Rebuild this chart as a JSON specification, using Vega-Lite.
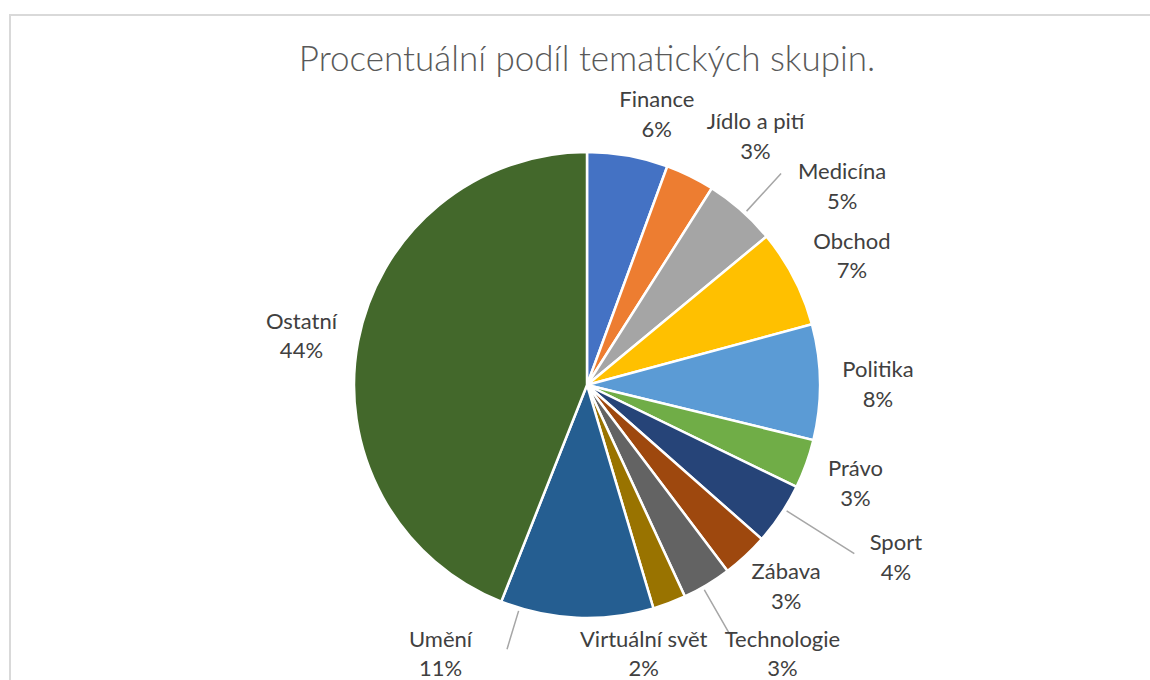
{
  "$schema": "https://vega.github.io/schema/vega-lite/v6.json",
  "autosize": "none",
  "width": 1154,
  "height": 740,
  "padding": {"left": 10, "top": 15, "right": 0, "bottom": 0},
  "background": "white",
  "config": {"view": {"stroke": null}},
  "title": {
    "text": "Procentuální podíl tematických skupin.",
    "frame": "group",
    "anchor": "middle",
    "orient": "top",
    "baseline": "alphabetic",
    "offset": -92,
    "font": "Lato",
    "fontSize": 35,
    "fontWeight": 300,
    "color": "#595959"
  },
  "data": {
    "values": [
      {"name": "Finance", "value": 0.056},
      {"name": "Jídlo a pití", "value": 0.034},
      {"name": "Medicína", "value": 0.050},
      {"name": "Obchod", "value": 0.068},
      {"name": "Politika", "value": 0.080},
      {"name": "Právo", "value": 0.034},
      {"name": "Sport", "value": 0.043},
      {"name": "Zábava", "value": 0.032},
      {"name": "Technologie", "value": 0.034},
      {"name": "Virtuální svět", "value": 0.023},
      {"name": "Umění", "value": 0.106},
      {"name": "Ostatní", "value": 0.440}
    ]
  },
  "transform": [
    {"window": [{"op": "row_number", "as": "i"}]},
    {"stack": "value", "groupby": [], "sort": [{"field": "i", "order": "ascending"}], "as": ["v0", "v1"]},
    {"calculate": "(datum.v0 + datum.v1) / 2", "as": "mid"},
    {"calculate": "[datum.name, format(datum.value, '.0%')]", "as": "txt"}
  ],
  "layer": [
    {
      "mark": {"type": "rect", "fill": null, "stroke": "#D9D9D9", "strokeWidth": 2},
      "encoding": {}
    },
    {
      "mark": {"type": "arc", "radius": 233, "stroke": "white", "strokeWidth": 2.5},
      "encoding": {
        "theta": {"field": "v0", "type": "quantitative", "stack": null, "scale": {"domain": [0, 1], "range": [0, 6.283185307179586]}},
        "theta2": {"field": "v1"},
        "color": {
          "field": "name",
          "type": "nominal",
          "legend": null,
          "scale": {
            "domain": ["Finance", "Jídlo a pití", "Medicína", "Obchod", "Politika", "Právo", "Sport", "Zábava", "Technologie", "Virtuální svět", "Umění", "Ostatní"],
            "range": ["#4472C4", "#ED7D31", "#A5A5A5", "#FFC000", "#5B9BD5", "#70AD47", "#264478", "#9E480E", "#636363", "#997300", "#255E91", "#43682B"]
          }
        }
      }
    },
    {
      "transform": [{"filter": "indexof(['Medicína','Technologie'], datum.name) >= 0"}],
      "mark": {"type": "arc", "radius": 287, "radius2": 236, "thetaOffset": 0.02, "theta2Offset": 0.02, "fill": null, "stroke": "#A6A6A6", "strokeWidth": 1.5},
      "encoding": {
        "theta": {"field": "mid", "type": "quantitative"},
        "theta2": {"field": "mid"}
      }
    },
    {
      "transform": [{"filter": "datum.name === 'Sport'"}],
      "mark": {"type": "arc", "radius": 316, "radius2": 236, "thetaOffset": -0.025, "theta2Offset": -0.025, "fill": null, "stroke": "#A6A6A6", "strokeWidth": 1.5},
      "encoding": {
        "theta": {"field": "mid", "type": "quantitative"},
        "theta2": {"field": "mid"}
      }
    },
    {
      "transform": [{"filter": "datum.name === 'Umění'"}],
      "mark": {"type": "arc", "radius": 276, "radius2": 236, "thetaOffset": 0.25, "theta2Offset": 0.25, "fill": null, "stroke": "#A6A6A6", "strokeWidth": 1.5},
      "encoding": {
        "theta": {"field": "mid", "type": "quantitative"},
        "theta2": {"field": "mid"}
      }
    },
    {
      "transform": [{"filter": "datum.name === 'Obchod'"}],
      "mark": {"type": "text", "radius": 294.5, "thetaOffset": 0.026, "dy": -14.75, "font": "Lato", "fontSize": 22, "lineHeight": 29.5, "color": "#404040", "align": "center", "baseline": "middle"},
      "encoding": {"theta": {"field": "mid", "type": "quantitative"}, "text": {"field": "txt"}}
    },
    {
      "transform": [{"filter": "datum.name === 'Politika'"}],
      "mark": {"type": "text", "radius": 291, "thetaOffset": 0.012, "dy": -14.75, "font": "Lato", "fontSize": 22, "lineHeight": 29.5, "color": "#404040", "align": "center", "baseline": "middle"},
      "encoding": {"theta": {"field": "mid", "type": "quantitative"}, "text": {"field": "txt"}}
    },
    {
      "transform": [{"filter": "datum.name === 'Právo'"}],
      "mark": {"type": "text", "radius": 286, "thetaOffset": 0.007, "dy": -14.75, "font": "Lato", "fontSize": 22, "lineHeight": 29.5, "color": "#404040", "align": "center", "baseline": "middle"},
      "encoding": {"theta": {"field": "mid", "type": "quantitative"}, "text": {"field": "txt"}}
    },
    {
      "transform": [{"filter": "datum.name === 'Zábava'"}],
      "mark": {"type": "text", "radius": 283.5, "thetaOffset": -0.031, "dy": -14.75, "font": "Lato", "fontSize": 22, "lineHeight": 29.5, "color": "#404040", "align": "center", "baseline": "middle"},
      "encoding": {"theta": {"field": "mid", "type": "quantitative"}, "text": {"field": "txt"}}
    },
    {
      "transform": [{"filter": "datum.name === 'Ostatní'"}],
      "mark": {"type": "text", "radius": 289.6, "thetaOffset": -0.021, "dy": -14.75, "font": "Lato", "fontSize": 22, "lineHeight": 29.5, "color": "#404040", "align": "center", "baseline": "middle"},
      "encoding": {"theta": {"field": "mid", "type": "quantitative"}, "text": {"field": "txt"}}
    },
    {
      "transform": [{"filter": "datum.name === 'Finance'"}],
      "mark": {"type": "text", "radius": 279, "thetaOffset": 0.077, "dy": -14.75, "font": "Lato", "fontSize": 22, "lineHeight": 29.5, "color": "#404040", "align": "center", "baseline": "middle"},
      "encoding": {"theta": {"field": "mid", "type": "quantitative"}, "text": {"field": "txt"}}
    },
    {
      "transform": [{"filter": "datum.name === 'Jídlo a pití'"}],
      "mark": {"type": "text", "radius": 300, "thetaOffset": 0.138, "dy": -14.75, "font": "Lato", "fontSize": 22, "lineHeight": 29.5, "color": "#404040", "align": "center", "baseline": "middle"},
      "encoding": {"theta": {"field": "mid", "type": "quantitative"}, "text": {"field": "txt"}}
    },
    {
      "transform": [{"filter": "datum.name === 'Medicína'"}],
      "mark": {"type": "text", "radius": 323, "thetaOffset": 0.188, "dy": -14.75, "font": "Lato", "fontSize": 22, "lineHeight": 29.5, "color": "#404040", "align": "center", "baseline": "middle"},
      "encoding": {"theta": {"field": "mid", "type": "quantitative"}, "text": {"field": "txt"}}
    },
    {
      "transform": [{"filter": "datum.name === 'Sport'"}],
      "mark": {"type": "text", "radius": 354, "thetaOffset": -0.077, "dy": -14.75, "font": "Lato", "fontSize": 22, "lineHeight": 29.5, "color": "#404040", "align": "center", "baseline": "middle"},
      "encoding": {"theta": {"field": "mid", "type": "quantitative"}, "text": {"field": "txt"}}
    },
    {
      "transform": [{"filter": "datum.name === 'Technologie'"}],
      "mark": {"type": "text", "radius": 333, "thetaOffset": -0.087, "dy": -14.75, "font": "Lato", "fontSize": 22, "lineHeight": 29.5, "color": "#404040", "align": "center", "baseline": "middle"},
      "encoding": {"theta": {"field": "mid", "type": "quantitative"}, "text": {"field": "txt"}}
    },
    {
      "transform": [{"filter": "datum.name === 'Virtuální svět'"}],
      "mark": {"type": "text", "radius": 275.5, "thetaOffset": 0.154, "dy": -14.75, "font": "Lato", "fontSize": 22, "lineHeight": 29.5, "color": "#404040", "align": "center", "baseline": "middle"},
      "encoding": {"theta": {"field": "mid", "type": "quantitative"}, "text": {"field": "txt"}}
    },
    {
      "transform": [{"filter": "datum.name === 'Umění'"}],
      "mark": {"type": "text", "radius": 306.7, "thetaOffset": 0.454, "dy": -14.75, "font": "Lato", "fontSize": 22, "lineHeight": 29.5, "color": "#404040", "align": "center", "baseline": "middle"},
      "encoding": {"theta": {"field": "mid", "type": "quantitative"}, "text": {"field": "txt"}}
    }
  ]
}
